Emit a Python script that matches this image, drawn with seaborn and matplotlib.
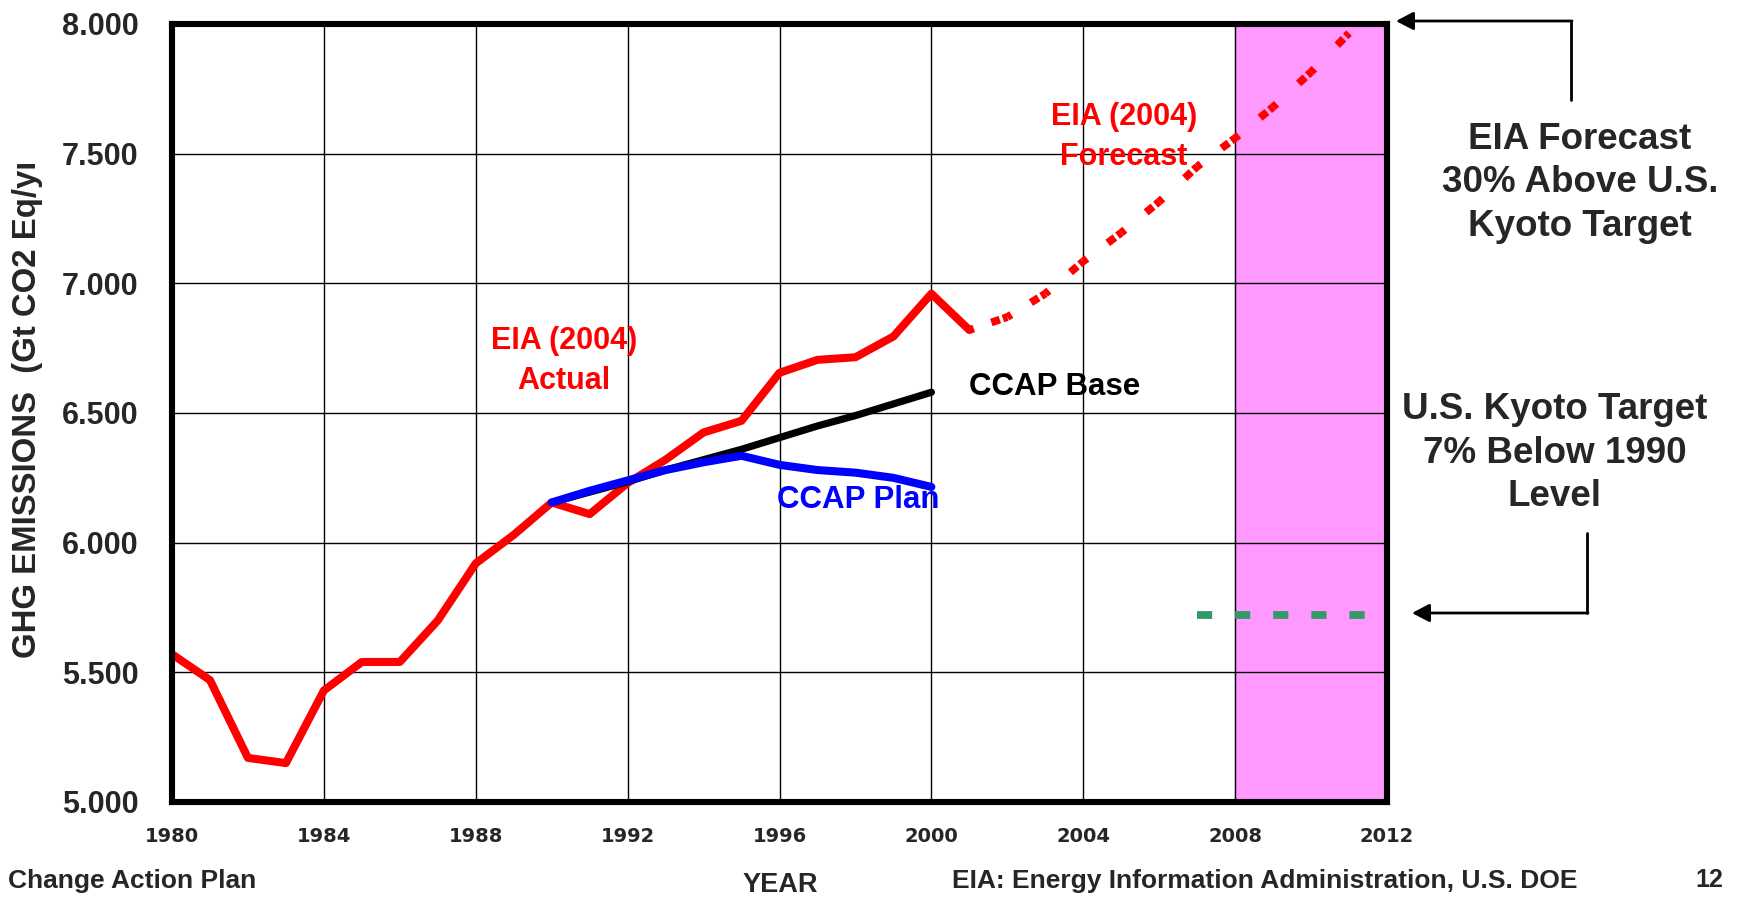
import matplotlib
matplotlib.use("Agg")
import matplotlib.pyplot as plt
from matplotlib.transforms import Bbox, TransformedBbox
import seaborn as sns

# ---- data -------------------------------------------------------------
actual_years = [1980, 1981, 1982, 1983, 1984, 1985, 1986, 1987, 1988, 1989, 1990,
                1991, 1992, 1993, 1994, 1995, 1996, 1997, 1998, 1999, 2000, 2001]
actual = [5.57, 5.47, 5.17, 5.15, 5.43, 5.54, 5.54, 5.70, 5.92, 6.03, 6.155,
          6.11, 6.23, 6.32, 6.425, 6.47, 6.655, 6.705, 6.715, 6.795, 6.96, 6.82]

forecast_years = [2001, 2002, 2003, 2004, 2005, 2006, 2007, 2008, 2009, 2010, 2011]
forecast = [6.82, 6.87, 6.96, 7.085, 7.195, 7.315, 7.45, 7.56, 7.68, 7.815, 7.965]

ccap_years = [1990, 1991, 1992, 1993, 1994, 1995, 1996, 1997, 1998, 1999, 2000]
ccap_base = [6.155, 6.195, 6.235, 6.28, 6.32, 6.36, 6.405, 6.45, 6.49, 6.535, 6.58]
ccap_plan = [6.155, 6.20, 6.24, 6.28, 6.31, 6.335, 6.30, 6.28, 6.27, 6.25, 6.215]

target_years = [2007, 2008, 2009, 2010, 2011, 2012]
kyoto_target = [5.72, 5.72, 5.72, 5.72, 5.72, 5.72]

commitment_period = (2008, 2012)
x_ticks = [1980, 1984, 1988, 1992, 1996, 2000, 2004, 2008, 2012]
y_ticks = [5.0, 5.5, 6.0, 6.5, 7.0, 7.5, 8.0]

# ---- style ------------------------------------------------------------
sns.set_style("white")
plt.rcParams["font.family"] = ["Liberation Sans", "DejaVu Sans"]
plt.rcParams["font.weight"] = "bold"

W, H = 1740, 897
fig = plt.figure(figsize=(W / 100, H / 100), dpi=100)
fig.patch.set_facecolor("white")

left, right, top, bottom = 172, 1387, 24, 802
ax = fig.add_axes([left / W, 1 - bottom / H, (right - left) / W, (bottom - top) / H])

RED, BLUE, PINK, GREEN = "#ff0000", "#0000ff", "#ff99ff", "#339966"

ax.axvspan(*commitment_period, facecolor=PINK, edgecolor="#ee77ee", lw=1.0, zorder=0.3)

ax.set_axisbelow(True)
ax.grid(True, color="black", lw=1.0)

sns.lineplot(x=actual_years, y=actual, ax=ax, color=RED, lw=5.8, zorder=3)

# forecast: a short dash centred on every yearly point plus one just before it
FLW = 5.6
for i in range(len(forecast_years) - 1):
    xs = forecast_years[i:i + 2]
    ys = forecast[i:i + 2]
    # half-dash leaving the earlier point
    ax.plot(xs, ys, color=RED, lw=FLW, linestyle=(0, (0.6, 40)),
            dash_capstyle="butt", zorder=3)
    # half-dash into the later point, small gap, then a full dash
    ax.plot(xs[::-1], ys[::-1], color=RED, lw=FLW,
            linestyle=(0, (0.6, 0.42, 1.15, 40)),
            dash_capstyle="butt", zorder=3)

sns.lineplot(x=ccap_years, y=ccap_base, ax=ax, color="black", lw=5.2, zorder=4)
sns.lineplot(x=ccap_years, y=ccap_plan, ax=ax, color=BLUE, lw=5.8, zorder=5)

ax.plot(target_years, kyoto_target, color=GREEN, lw=5.6,
        linestyle=(0, (1.95, 2.95)), dash_capstyle="butt", zorder=3)

ax.set_xlim(x_ticks[0], x_ticks[-1])
ax.set_ylim(y_ticks[0], y_ticks[-1])
ax.set_xticks(x_ticks)
ax.set_yticks(y_ticks)
ax.set_yticklabels([f"{v:.3f}" for v in y_ticks], fontsize=22, fontweight="bold")
ax.set_xticklabels([str(v) for v in x_ticks], fontsize=14, fontweight="bold",
                   family="DejaVu Sans")
ax.tick_params(axis="x", length=0, pad=18)
ax.tick_params(axis="y", length=0, pad=24)
ax.set_xlabel("")
ax.set_ylabel("")

for sp in ax.spines.values():
    sp.set_visible(True)
    sp.set_color("black")
    sp.set_linewidth(4.4)
    sp.set_zorder(6)

# ---- in-plot labels -------------------------------------------------------
ax.text(1990.32, 6.70, "EIA (2004)\nActual", color=RED, fontsize=22,
        fontweight="bold", ha="center", va="center", linespacing=1.42, zorder=7)
ax.text(2005.07, 7.565, "EIA (2004)\nForecast", color=RED, fontsize=22,
        fontweight="bold", ha="center", va="center", linespacing=1.42, zorder=7)
ax.text(2000.99, 6.60, "CCAP Base", color="black", fontsize=22.5,
        fontweight="bold", ha="left", va="center", zorder=7)
ax.text(1998.07, 6.164, "CCAP Plan", color=BLUE, fontsize=22.5,
        fontweight="bold", ha="center", va="center", zorder=7)

# ---- right-hand notes with arrows -------------------------------------------
def fx(px):
    return px / W


def fy(py):
    return 1 - py / H


fig.text(fx(1580), fy(183), "EIA Forecast\n30% Above U.S.\nKyoto Target",
         fontsize=26.5, fontweight="bold", ha="center", va="center", linespacing=1.33)
fig.text(fx(1555), fy(453), "U.S. Kyoto Target\n7% Below 1990\nLevel",
         fontsize=26.5, fontweight="bold", ha="center", va="center", linespacing=1.3)

arrow_style = "-|>,head_length=1.05,head_width=0.55"
fig.add_artist(plt.Line2D([fx(1571), fx(1571)], [fy(100), fy(21)],
                          transform=fig.transFigure, color="black", lw=2.0))
fig.add_artist(plt.Line2D([fx(1587), fx(1587)], [fy(533), fy(613)],
                          transform=fig.transFigure, color="black", lw=2.0))
ax.annotate("", xy=(fx(1396), fy(21)), xytext=(fx(1572), fy(21)),
            xycoords="figure fraction", textcoords="figure fraction",
            arrowprops=dict(arrowstyle=arrow_style, color="black", lw=2.0,
                            shrinkA=0, shrinkB=0), annotation_clip=False)
ax.annotate("", xy=(fx(1412), fy(613)), xytext=(fx(1588), fy(613)),
            xycoords="figure fraction", textcoords="figure fraction",
            arrowprops=dict(arrowstyle=arrow_style, color="black", lw=2.0,
                            shrinkA=0, shrinkB=0), annotation_clip=False)

# ---- axis title and footer ------------------------------------------------
ylab = fig.text(fx(28), fy(157), "GHG EMISSIONS  (Gt CO2 Eq/yr",
                fontsize=23.7, fontweight="bold", rotation=90,
                ha="center", va="top")
ylab.set_clip_box(TransformedBbox(Bbox([[0, 0], [1, fy(164)]]), fig.transFigure))
ylab.set_clip_on(True)

fig.text(fx(8), fy(881), "Change Action Plan", fontsize=19, fontweight="bold",
         ha="left", va="center")
fig.text(fx(780), fy(885), "YEAR", fontsize=19.5, fontweight="bold",
         ha="center", va="center")
fig.text(fx(952), fy(881), "EIA: Energy Information Administration, U.S. DOE",
         fontsize=19, fontweight="bold", ha="left", va="center")
fig.text(fx(1723), fy(880), "12", fontsize=18, fontweight="bold",
         ha="right", va="center")

fig.savefig("out.png", dpi=100, facecolor="white")
